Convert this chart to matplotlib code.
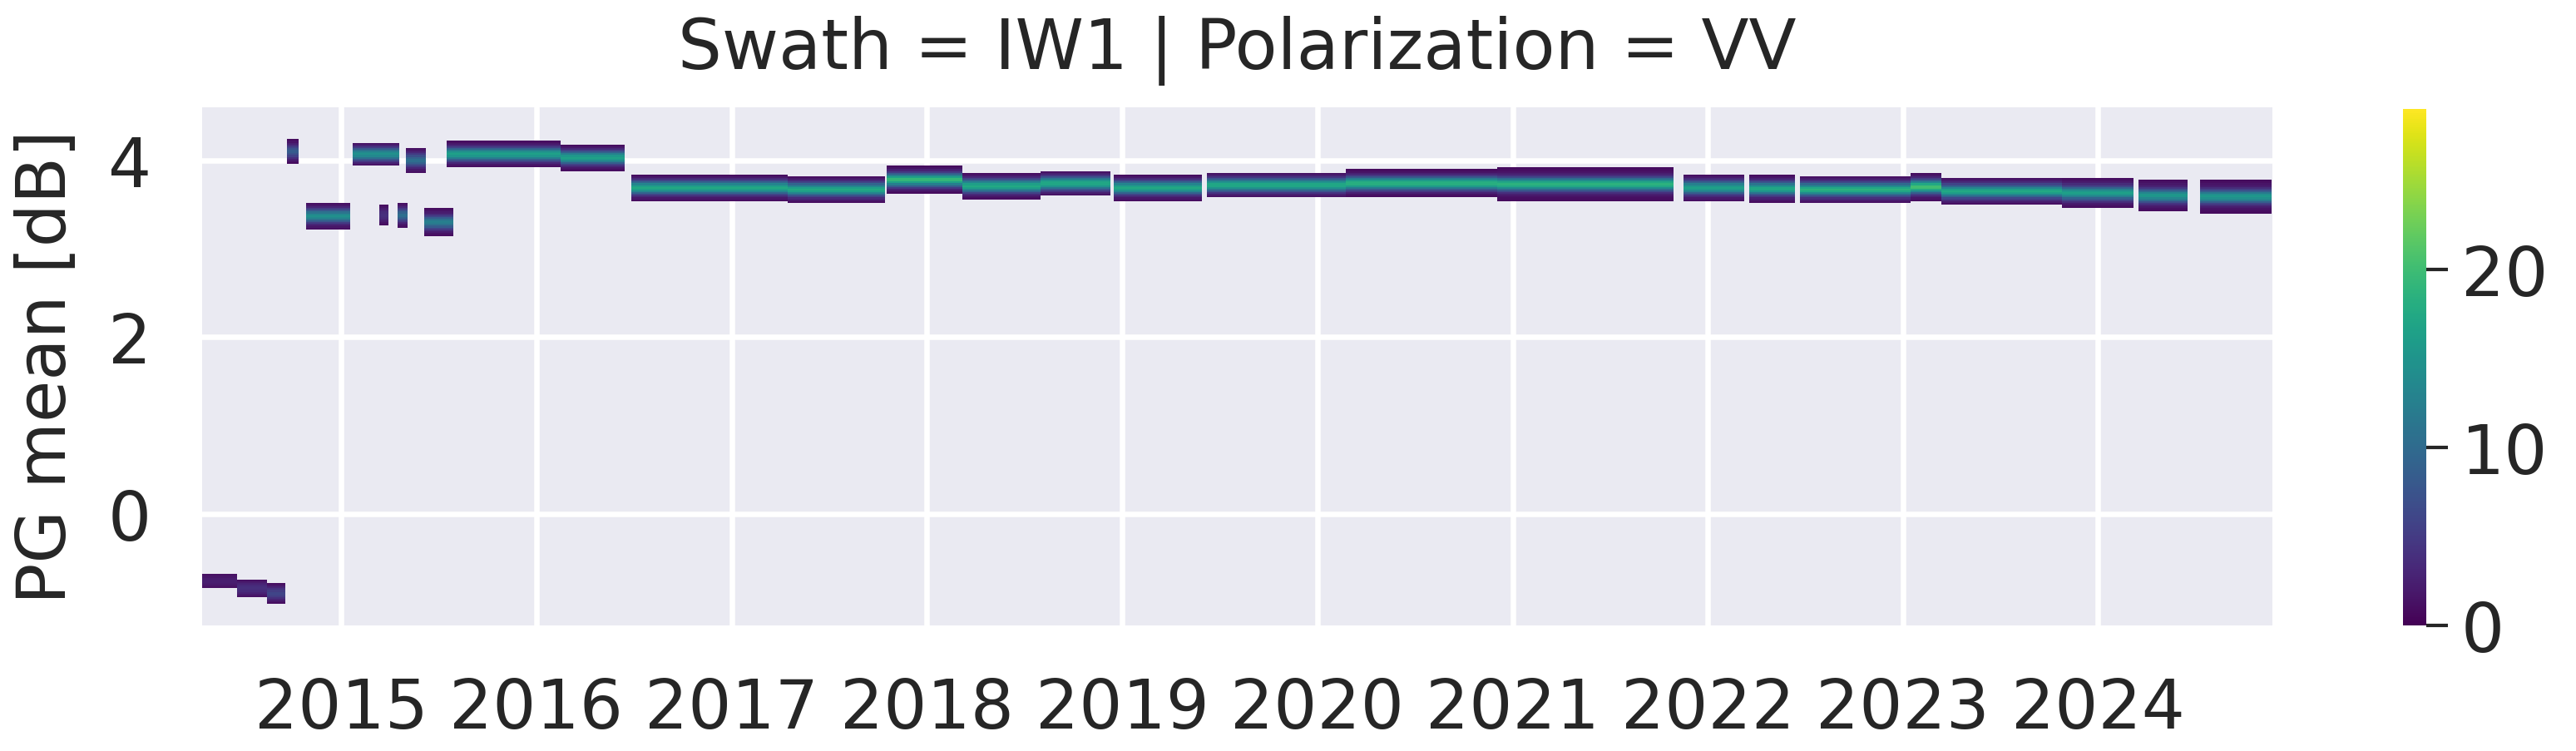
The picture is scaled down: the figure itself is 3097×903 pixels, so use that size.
import numpy as np
import matplotlib
matplotlib.use("Agg")
import matplotlib.pyplot as plt
import matplotlib.dates as mdates

# ---- data (segments of the PG-mean density band) ----
seg_start = ["2014-04-15", "2014-06-20", "2014-08-15", "2014-09-22", "2014-10-27",
             "2015-01-22", "2015-03-14", "2015-04-16", "2015-05-02", "2015-06-05",
             "2015-07-18", "2016-02-15", "2016-06-27", "2017-04-15", "2017-10-17",
             "2018-03-09", "2018-08-01", "2018-12-16", "2019-06-09", "2020-02-24",
             "2020-12-03", "2021-11-16", "2022-03-19", "2022-06-22", "2023-01-15",
             "2023-03-13", "2023-10-26", "2024-03-16", "2024-07-10"]
seg_end = ["2014-06-20", "2014-08-15", "2014-09-18", "2014-10-14", "2015-01-18",
           "2015-04-20", "2015-03-30", "2015-05-05", "2015-06-08", "2015-07-30",
           "2016-02-15", "2016-06-15", "2017-04-15", "2017-10-15", "2018-03-09",
           "2018-08-01", "2018-12-10", "2019-05-30", "2020-02-24", "2020-12-03",
           "2021-10-29", "2022-03-10", "2022-06-13", "2023-01-15", "2023-03-13",
           "2023-10-26", "2024-03-07", "2024-06-17", "2024-11-20"]
seg_level = [-0.76, -0.84, -0.90, 4.10, 3.37,
             4.07, 3.38, 3.38, 4.00, 3.30,
             4.07, 4.03, 3.69, 3.67, 3.78,
             3.71, 3.74, 3.69, 3.72, 3.74,
             3.73, 3.69, 3.68, 3.67, 3.70,
             3.65, 3.63, 3.60, 3.59]
seg_peak = [1.2, 2.0, 3.5, 6, 12,
            12, 2, 8, 8, 10,
            14, 14, 15, 15, 17,
            15, 15, 15, 15, 16,
            16, 14, 15, 16, 18,
            15, 14, 13, 13]
seg_spread = [0.07, 0.07, 0.07, 0.08, 0.10,
              0.08, 0.08, 0.09, 0.09, 0.10,
              0.09, 0.09, 0.09, 0.09, 0.09,
              0.09, 0.09, 0.09, 0.09, 0.09,
              0.12, 0.10, 0.10, 0.10, 0.10,
              0.10, 0.11, 0.12, 0.12]

y_ticks = [0, 2, 4]
cbar_ticks = [0, 10, 20]
title = "Swath = IW1 | Polarization = VV"
ylabel = "PG mean [dB]"

# ---- style (seaborn darkgrid look) ----
plt.rcParams["font.family"] = ["DejaVu Sans"]
W, H = 3097, 904
fig = plt.figure(figsize=(W / 100, H / 100), dpi=100)
ax = fig.add_axes([243 / W, 1 - 753 / H, (2732 - 243) / W, (753 - 130) / H])
cax = fig.add_axes([2889 / W, 1 - 753 / H, 28 / W, (753 - 132) / H])
ax.set_facecolor("#EAEAF2")
for s in ax.spines.values():
    s.set_visible(False)

# ---- build density grid from segments ----
t0 = mdates.date2num(np.datetime64("2014-04-15"))
t1 = mdates.date2num(np.datetime64("2024-11-23"))
t_edges = np.arange(t0, t1 + 1, 1.0)
t_cent = 0.5 * (t_edges[:-1] + t_edges[1:])
y_edges = np.arange(-1.3, 4.66, 0.02)
y_cent = 0.5 * (y_edges[:-1] + y_edges[1:])
counts = np.zeros((len(y_cent), len(t_cent)))
for s, e, lv, pk, sp in zip(seg_start, seg_end, seg_level, seg_peak, seg_spread):
    a = mdates.date2num(np.datetime64(s))
    b = mdates.date2num(np.datetime64(e))
    cols = (t_cent >= a) & (t_cent < b)
    d = y_cent - lv
    prof = pk * np.exp(-0.5 * (d / 0.05) ** 2) + min(2.5, pk) * np.exp(-0.5 * (d / sp) ** 2)
    counts[:, cols] += prof[:, None]
counts = np.ma.masked_less(counts, 0.8)

mesh = ax.pcolormesh(t_edges, y_edges, counts, cmap="viridis", vmin=0, vmax=29,
                     shading="flat", zorder=2)

ax.set_xlim(mdates.date2num(np.datetime64("2014-04-16")),
            mdates.date2num(np.datetime64("2024-11-22")))
ax.set_ylim(-1.26, 4.60)
ax.set_yticks(y_ticks)
ax.xaxis.set_major_locator(mdates.YearLocator())
ax.xaxis.set_major_formatter(mdates.DateFormatter("%Y"))
ax.grid(True, color="white", linewidth=4.7, zorder=1)
ax.set_axisbelow(True)
ax.tick_params(axis="both", length=0, pad=44, labelsize=59, labelcolor="#262626")
ax.set_ylabel(ylabel, fontsize=59, color="#262626")
ax.yaxis.set_label_coords(-0.059, 0.5)
ax.set_title(title, fontsize=60, pad=34, color="#262626")

cbar = fig.colorbar(mesh, cax=cax)
cbar.outline.set_visible(False)
cbar.set_ticks(cbar_ticks)
cax.tick_params(length=19, width=3, pad=11, labelsize=59, color="#262626",
                labelcolor="#262626")

fig.savefig("out.png", dpi=100)
